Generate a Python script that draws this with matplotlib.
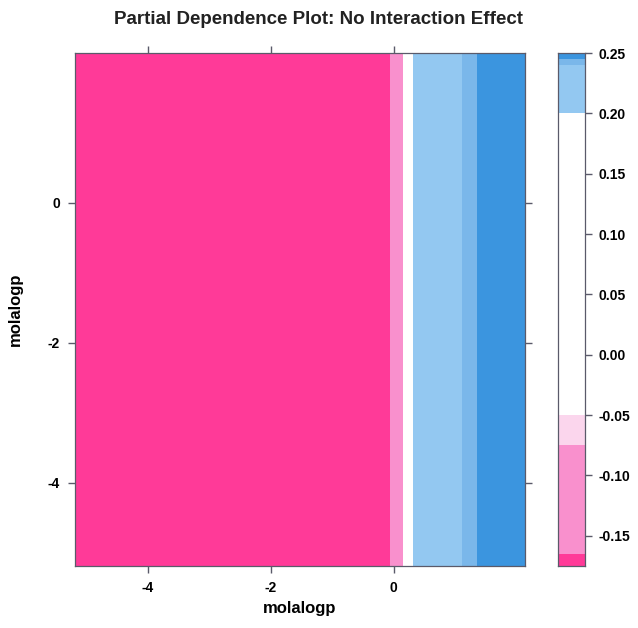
import numpy as np
import matplotlib
matplotlib.use("Agg")
import matplotlib.pyplot as plt
from matplotlib.colors import ListedColormap, BoundaryNorm

plt.rcParams['font.family'] = ['Liberation Sans', 'DejaVu Sans']
plt.rcParams['font.weight'] = 'bold'

# Grid breaks along molalogp and the partial dependence in each cell
x_breaks = [-5.19, -0.37, -0.065, 0.146, 0.31, 1.12, 1.35, 2.14]
pd_values = [-0.170, -0.168, -0.120, 0.050, 0.220, 0.242, 0.248]
y_limits = [-5.19, 2.14]

# Colour key levels and their fills
key_levels = [-0.175, -0.165, -0.075, -0.05, 0.20, 0.24, 0.245, 0.25]
key_colors = ['#ff3a98', '#f990cd', '#fbd6ed', '#ffffff', '#93c8f1',
              '#7ab7ea', '#3b95df']
key_ticks = [-0.15, -0.10, -0.05, 0.00, 0.05, 0.10, 0.15, 0.20, 0.25]

x_ticks = [-4, -2, 0]
y_ticks = [-4, -2, 0]

cmap = ListedColormap(key_colors)
norm = BoundaryNorm(key_levels, cmap.N)

fig = plt.figure(figsize=(6.38, 6.28), dpi=100)
ax = fig.add_axes([0.1176, 0.0987, 0.7054, 0.8169])
cax = fig.add_axes([0.8746, 0.0987, 0.0423, 0.8169])

Z = np.array(pd_values)[np.newaxis, :]
ax.pcolormesh(np.array(x_breaks), np.array(y_limits), Z, cmap=cmap, norm=norm,
              shading='flat')
ax.set_xlim(x_breaks[0], x_breaks[-1])
ax.set_ylim(y_limits[0], y_limits[1])

frame_col = '#5a5a6a'
for s in ax.spines.values():
    s.set_color(frame_col)
    s.set_linewidth(0.9)
ax.set_xticks(x_ticks)
ax.set_yticks(y_ticks)
ax.tick_params(axis='both', direction='out', length=5, width=1, color=frame_col,
               top=True, right=True, labelsize=10, pad=6)
ax.set_xticklabels([str(t) for t in x_ticks], fontweight='bold')
ax.set_yticklabels([str(t) for t in y_ticks], fontweight='bold')
ax.set_xlabel('molalogp', fontsize=12, fontweight='bold', labelpad=4)
ax.set_ylabel('molalogp', fontsize=12, fontweight='bold', labelpad=18)
fig.text(0.5, 0.969, 'Partial Dependence Plot: No Interaction Effect',
         ha='center', va='center', fontsize=13.5, fontweight='bold', color='#222222')

# Colour key
for lo, hi, c in zip(key_levels[:-1], key_levels[1:], key_colors):
    cax.axhspan(lo, hi, color=c, lw=0)
cax.set_ylim(key_levels[0], key_levels[-1])
cax.set_xlim(0, 1)
cax.set_xticks([])
cax.yaxis.tick_right()
cax.set_yticks(key_ticks)
cax.set_yticklabels([f'{t:.2f}' for t in key_ticks], fontweight='bold')
cax.tick_params(axis='y', direction='out', length=5, width=1, color=frame_col,
                labelsize=10, pad=5)
for s in cax.spines.values():
    s.set_color(frame_col)
    s.set_linewidth(0.9)

fig.savefig('out.png', dpi=100)
